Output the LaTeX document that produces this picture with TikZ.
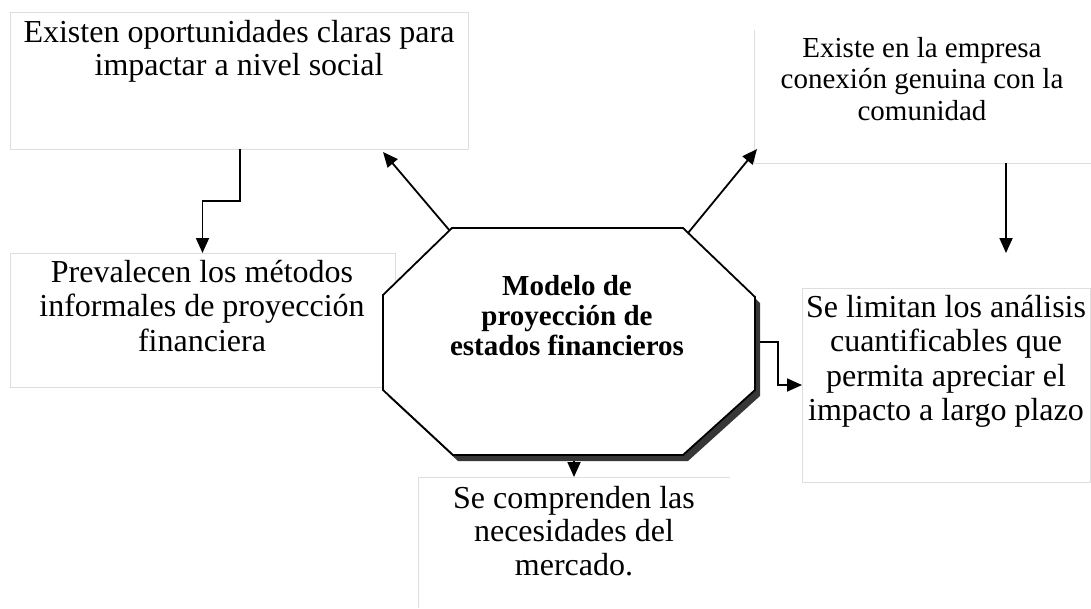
\documentclass[tikz,border=0pt]{standalone}
\usepackage{fontspec}
\setmainfont{Liberation Serif}
\usetikzlibrary{arrows.meta}
\definecolor{boxgray}{RGB}{222,222,222}
\definecolor{shadowgray}{RGB}{55,55,55}
\begin{document}
\begin{tikzpicture}[x=1pt,y=-1pt,
  area/.style={inner sep=0pt, outer sep=0pt},
  frame/.style={draw=boxgray, line width=0.8pt},
  txt/.style={align=center, inner sep=0pt, outer sep=0pt, anchor=north},
  bigtxt/.style={txt, font=\fontsize{32}{34.5}\selectfont},
  conn/.style={line width=1.8pt, -{Triangle[length=15pt,width=13pt]}},
  octa/.style={line width=1.8pt, fill=white, line join=miter}
]
\useasboundingbox (0,0) rectangle (1091,608);

% box areas
\node[area, frame, minimum width=458pt, minimum height=137pt] (b1) at (239,80.5) {};
\node[area, minimum width=337pt, minimum height=133pt] (b2) at (922.5,96.5) {};
\draw[frame] (b2.north west) -- (b2.south west) -- (b2.south east);
\node[area, frame, minimum width=385pt, minimum height=134pt] (b3) at (202.5,320) {};
\node[area, frame, minimum width=288pt, minimum height=194pt] (b4) at (946,385) {};
\node[area, minimum width=312pt, minimum height=131pt] (b5) at (574,542.5) {};
\draw[frame] (b5.south west) -- (b5.north west) -- (b5.north east);

% texts
\node[txt, font=\fontsize{32}{33}\selectfont] (t1) at (239,20) {Existen oportunidades claras para\\impactar a nivel social};
\node[txt, font=\fontsize{29}{31.5}\selectfont] (t2) at (922,37) {Existe en la empresa\\conexión genuina con la\\comunidad};
\node[bigtxt] (t3) at (202,260) {Prevalecen los métodos\\informales de proyección\\financiera};
\node[bigtxt] (t4) at (946,295) {Se limitan los análisis\\cuantificables que\\permita apreciar el\\impacto a largo plazo};
\node[txt, font=\fontsize{32}{33.5}\selectfont] (t5) at (574,486) {Se comprenden las\\necesidades del\\mercado.};

% connector points
\coordinate (otl) at (450,231);
\coordinate (otr) at (688,233);
\coordinate (ort) at (758,342);
\coordinate (obt) at (574,452);
\coordinate (a1) at (383,152);
\coordinate (a2) at (757,149);
\coordinate (k1) at (240,149);
\coordinate (k4) at (1006,163);
\coordinate (k4e) at (1006,253);

% connectors
\draw[conn] (otl) -- (a1);
\draw[conn] (otr) -- (a2);
\draw[conn] (k1) -- (240,201) -| (b3.north);
\draw[conn] (k4) -- (k4e);
\draw[conn] (ort) -- (778,342) |- (b4.west);
\draw[conn] (obt) -- (b5.north);

% octagon with shadow
\fill[shadowgray] (457,234) -- (688,234) -- (760,303) -- (760,396) -- (688,461) -- (458,461) -- (388,396) -- (388,301) -- cycle;
\draw[octa] (452,228) -- (683,228) -- (755,297) -- (755,390) -- (683,455) -- (453,455) -- (383,390) -- (383,295) -- cycle;
\node[txt, font=\bfseries\fontsize{29}{30}\selectfont] (model) at (567,275) {Modelo de\\proyección de\\estados financieros};
\end{tikzpicture}
\end{document}
